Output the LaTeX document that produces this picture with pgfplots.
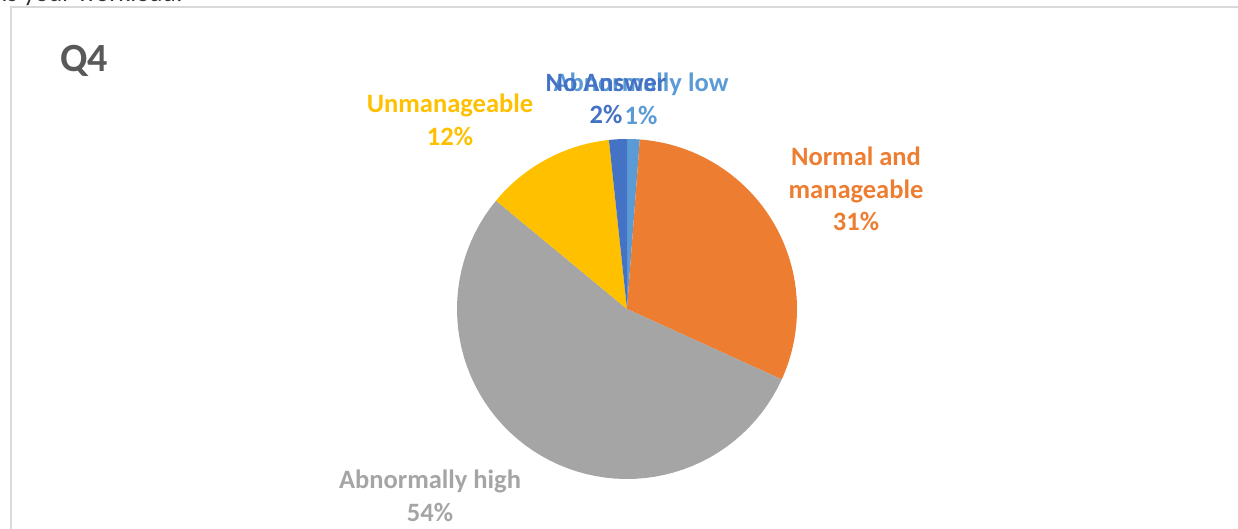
\documentclass[border=0pt]{standalone}
\usepackage{pgfplots}
\pgfplotsset{compat=1.18}
\usepackage{fontspec}
\setmainfont{Carlito}

\definecolor{cLow}{HTML}{5B9BD5}
\definecolor{cNormal}{HTML}{ED7D31}
\definecolor{cHigh}{HTML}{A5A5A5}
\definecolor{cUnman}{HTML}{FFC000}
\definecolor{cNoAns}{HTML}{4472C4}
\definecolor{cTitle}{HTML}{595959}
\definecolor{cFrame}{HTML}{D9D9D9}

\tikzset{lbl/.style={font=\fontsize{26.5}{32.5}\selectfont\bfseries, align=center}}

% shares (percent), clockwise from 12 o'clock
\def\vLow{1.2}
\def\vNormal{30.6}
\def\vHigh{54.2}
\def\vUnman{12.3}
\def\vNoAns{1.7}

\pgfmathsetmacro\aA{0}
\pgfmathsetmacro\aB{\aA+3.6*\vLow}
\pgfmathsetmacro\aC{\aB+3.6*\vNormal}
\pgfmathsetmacro\aD{\aC+3.6*\vHigh}
\pgfmathsetmacro\aE{\aD+3.6*\vUnman}
\pgfmathsetmacro\aF{\aE+3.6*\vNoAns}

\begin{document}
\begin{tikzpicture}
\useasboundingbox (0,0) rectangle (1238pt,529pt);
\begin{axis}[
    at={(0,0)}, anchor=south west,
    scale only axis,
    width=1238pt, height=529pt,
    xmin=0, xmax=1238, ymin=0, ymax=529,
    y dir=reverse,
    hide axis,
    clip=false,
    samples=60
]
% frame
\draw[cFrame, line width=1.5pt] (axis cs:11,529) -- (axis cs:11,7) -- (axis cs:1240,7);
\node[anchor=base west, font=\fontsize{26}{30}\selectfont, text=black!80] at (axis cs:-2,2) {ls your workload.};

% slices
\addplot[fill=cLow, draw=none, domain=\aA:\aB] ({627+170*sin(x)},{309-170*cos(x)}) -- (axis cs:627,309) -- cycle;
\addplot[fill=cNormal, draw=none, domain=\aB:\aC] ({627+170*sin(x)},{309-170*cos(x)}) -- (axis cs:627,309) -- cycle;
\addplot[fill=cHigh, draw=none, domain=\aC:\aD] ({627+170*sin(x)},{309-170*cos(x)}) -- (axis cs:627,309) -- cycle;
\addplot[fill=cUnman, draw=none, domain=\aD:\aE] ({627+170*sin(x)},{309-170*cos(x)}) -- (axis cs:627,309) -- cycle;
\addplot[fill=cNoAns, draw=none, domain=\aE:\aF] ({627+170*sin(x)},{309-170*cos(x)}) -- (axis cs:627,309) -- cycle;

% title and labels
\node[font=\fontsize{40}{42}\selectfont\bfseries, text=cTitle] at (axis cs:84,61) {Q4};
\node[lbl, text=cUnman] at (axis cs:450,120) {Unmanageable\\12\%};
\node[lbl, text=cLow] at (axis cs:641,99) {Abnormally low\\1\%};
\node[lbl, text=cNoAns] at (axis cs:606,99) {No Answer\\2\%};
\node[lbl, text=cNormal] at (axis cs:856,189) {Normal and\\manageable\\31\%};
\node[lbl, text=cHigh] at (axis cs:430,496) {Abnormally high\\54\%};
\end{axis}
\end{tikzpicture}
\end{document}
